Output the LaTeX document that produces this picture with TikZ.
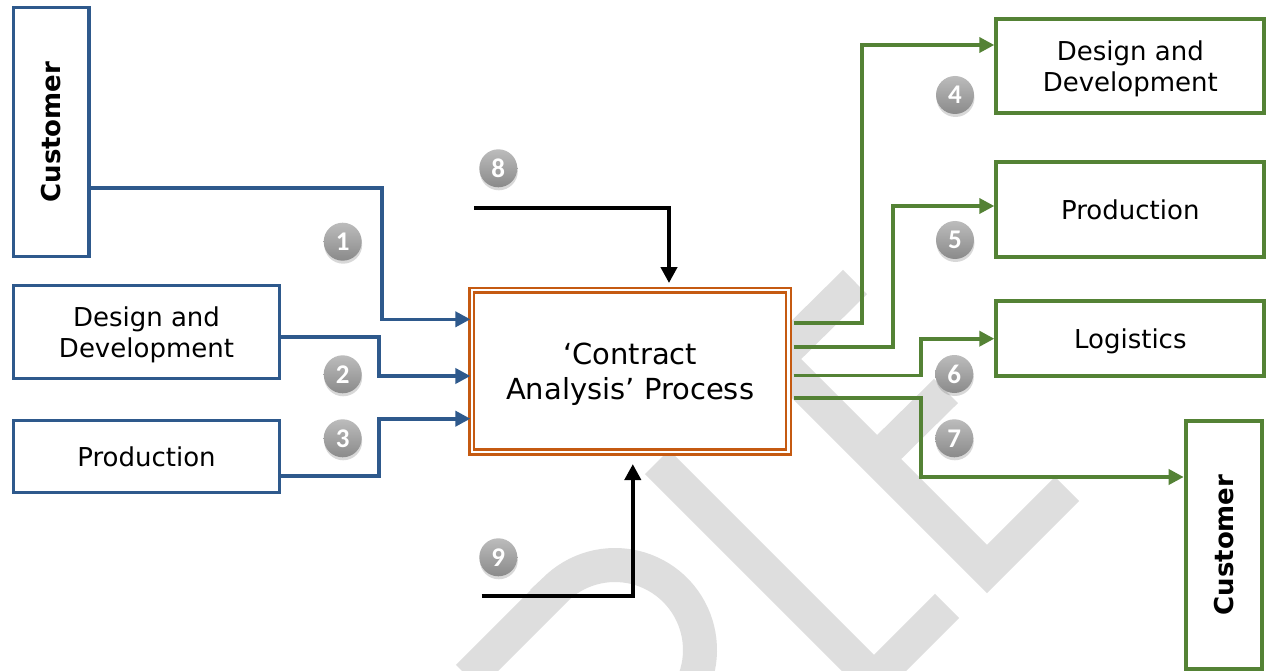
\documentclass[tikz,border=0pt]{standalone}
\usepackage{fontspec}
\setmainfont{DejaVu Sans}
\newfontfamily\carlito{Carlito}
\usetikzlibrary{arrows.meta,shadows}
\definecolor{myblue}{RGB}{46,89,140}
\definecolor{mygreen}{RGB}{84,130,53}
\definecolor{myorange}{RGB}{197,90,17}
\definecolor{wmgray}{RGB}{222,222,222}
\definecolor{bdtop}{RGB}{188,188,188}
\definecolor{bdbot}{RGB}{138,138,138}
\begin{document}
\begin{tikzpicture}[x=1pt,y=-1pt,
 lbox/.style={draw=myblue,line width=3.5pt,fill=white,inner sep=0pt,align=center,text depth=0pt,font=\fontsize{26}{31}\selectfont},
 rbox/.style={draw=mygreen,line width=4pt,fill=white,inner sep=0pt,align=center,text depth=0pt,font=\fontsize{26}{31}\selectfont},
 custtext/.style={font=\fontsize{26}{31}\selectfont\bfseries},
 bcon/.style={draw=myblue,line width=3.6pt,-{Triangle[length=15pt,width=15pt]}},
 gcon/.style={draw=mygreen,line width=3.6pt,-{Triangle[length=15pt,width=15pt]}},
 kcon/.style={draw=black,line width=4.5pt,-{Triangle[length=16pt,width=16pt]}},
 badge/.style={circle,minimum size=38pt,inner sep=0pt,top color=bdtop,bottom color=bdbot,text=white,
   font=\carlito\bfseries\fontsize{27}{27}\selectfont,
   drop shadow={shadow xshift=0.5pt,shadow yshift=-3pt,opacity=0.3}},
 wm/.style={draw=wmgray,line width=34pt,line cap=butt,line join=miter},
]
\useasboundingbox (0,0) rectangle (1274,671);
\fill[white] (0,0) rectangle (1274,671);
% watermark
\begin{scope}
\clip (0,0) rectangle (1274,671);
\draw[wm] (855,282) -- (777,359) -- (987,569) -- (1067,489);
\draw[wm] (877,459) -- (946,391);
\draw[wm] (657,462) -- (874,679) -- (947,606);
\draw[wm] (468,677) -- (555,590) -- plot[domain=-135:45,samples=50] ({615+85*cos(\x)},{650+85*sin(\x)});
\end{scope}
% nodes
\node[lbox,rotate=90,minimum width=249.2pt,minimum height=75.3pt,custtext] (lc) at (51.3,132.1) {Customer};
\node[lbox,minimum width=265.6pt,minimum height=92.6pt] (ld) at (146.5,332) {Design and\\Development};
\node[lbox,minimum width=265.6pt,minimum height=71.6pt] (lp) at (146.5,456.5) {Production};
\node[draw=myorange,line width=2.6pt,double=white,double distance=2.2pt,fill=white,
  minimum width=316.8pt,minimum height=161.7pt,inner sep=0pt,align=center,text depth=0pt,
  font=\fontsize{29}{35}\selectfont] (cp) at (630.1,371.2) {‘Contract\\Analysis’ Process};
\node[rbox,minimum width=268pt,minimum height=94.3pt] (rd) at (1130.3,66.2) {Design and\\Development};
\node[rbox,minimum width=268pt,minimum height=95.3pt] (rp) at (1130.3,209.3) {Production};
\node[rbox,minimum width=268pt,minimum height=75.1pt] (rl) at (1130.3,338.2) {Logistics};
\node[rbox,rotate=90,minimum width=248.5pt,minimum height=76pt,custtext] (rc) at (1223.7,545) {Customer};
% blue connectors
\draw[bcon] (lc.south |- 0,188) -- (382,188) -- (382,319.3) -- (cp.west |- 0,319.3);
\draw[bcon] (ld.east |- 0,337) -- (378.7,337) -- (378.7,376) -- (cp.west |- 0,376);
\draw[bcon] (lp.east |- 0,476) -- (379,476) -- (379,418.7) -- (cp.west |- 0,418.7);
% green connectors
\draw[gcon,shorten <=3.7pt] (cp.east |- 0,323) -- (862,323) -- (862,45) -- (rd.west |- 0,45);
\draw[gcon,shorten <=3.7pt] (cp.east |- 0,347) -- (893,347) -- (893,206) -- (rp.west |- 0,206);
\draw[gcon,shorten <=3.7pt] (cp.east |- 0,375.3) -- (921,375.3) -- (921,338.7) -- (rl.west |- 0,338.7);
\draw[gcon,shorten <=3.7pt] (cp.east |- 0,398) -- (921,398) -- (921,477) -- (rc.north |- 0,477);
% black connectors
\coordinate (k8) at (474,207.8);
\coordinate (k9) at (481.7,596);
\draw[kcon,shorten >=6pt] (k8) -- (669,207.8) -- (cp.north -| 669,0);
\draw[kcon,shorten >=10.7pt] (k9) -- (632.8,596) -- (cp.south -| 632.8,0);
% badges
\node[badge] (b1) at (342.7,241.7) {1};
\node[badge] (b2) at (342.7,374.3) {2};
\node[badge] (b3) at (342.7,438.3) {3};
\node[badge] (b4) at (955,95) {4};
\node[badge] (b5) at (955,240) {5};
\node[badge] (b6) at (954.3,374) {6};
\node[badge] (b7) at (954.3,438.3) {7};
\node[badge] (b8) at (498.3,168.3) {8};
\node[badge] (b9) at (498.3,557.3) {9};
\end{tikzpicture}
\end{document}
